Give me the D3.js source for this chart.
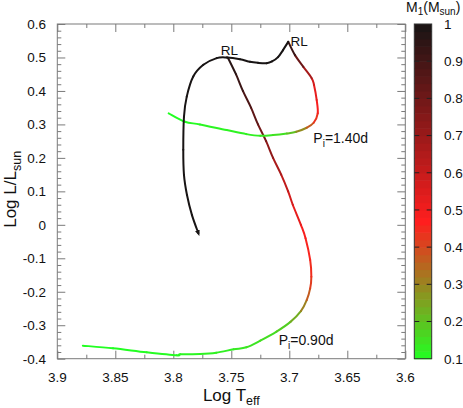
<!DOCTYPE html>
<html><head><meta charset="utf-8">
<script src="https://cdn.jsdelivr.net/npm/d3@7"></script>
<style>body{margin:0;background:#fff}svg{display:block;font-family:"Liberation Sans",Arial,Helvetica,sans-serif}</style>
</head><body><svg id="c" width="463" height="408"></svg>
<script>
// Track with initial period 0.90 d (ends at RL)
const trackA_logTeff = [3.878,3.852,3.823,3.797,3.794,3.777,3.763,3.748,3.737,3.725,3.711,3.699,3.690,3.685,3.682,3.681,3.682,3.686,3.690,3.697,3.701,3.707,3.714,3.720,3.727,3.733,3.740,3.746,3.753];
const trackA_logL    = [-0.361,-0.369,-0.381,-0.390,-0.387,-0.386,-0.382,-0.372,-0.366,-0.346,-0.319,-0.290,-0.258,-0.225,-0.190,-0.155,-0.105,-0.040,0.000,0.060,0.100,0.150,0.200,0.250,0.300,0.350,0.400,0.450,0.500];
const trackA_mass    = [0.10,0.10,0.10,0.11,0.11,0.12,0.12,0.13,0.14,0.15,0.16,0.20,0.27,0.34,0.40,0.44,0.45,0.47,0.50,0.55,0.59,0.64,0.69,0.76,0.82,0.86,0.90,0.94,0.98];
// Track with initial period 1.40 d, up to RL
const trackB_logTeff = [3.804,3.790,3.777,3.754,3.737,3.725,3.714,3.702,3.694,3.685,3.679,3.6755,3.6764,3.6787,3.6807,3.6879,3.6951,3.7009];
const trackB_logL    = [0.333,0.308,0.300,0.283,0.271,0.266,0.268,0.273,0.278,0.290,0.305,0.333,0.373,0.418,0.438,0.472,0.507,0.547];
const trackB_mass    = [0.10,0.10,0.11,0.12,0.12,0.13,0.14,0.16,0.24,0.34,0.40,0.47,0.50,0.55,0.60,0.75,0.88,0.97];
// Same system after RL contact
const trackC_logTeff = [3.7009,3.7054,3.7097,3.7149,3.7195,3.727,3.7339,3.7425,3.754,3.7626,3.7741,3.7828,3.7884,3.7908,3.7914,3.7908,3.7882,3.7839,3.7784];
const trackC_logL    = [0.547,0.522,0.501,0.488,0.483,0.484,0.487,0.495,0.500,0.498,0.478,0.443,0.383,0.323,0.224,0.149,0.089,0.029,-0.025];
const trackC_mass    = [1.0,1.0,1.0,1.0,1.0,1.0,1.0,1.0,1.0,1.0,1.0,1.0,1.0,1.0,1.0,1.0,1.0,1.0,1.0];

const xMajor = [3.9,3.85,3.8,3.75,3.7,3.65,3.6];
const xMajorLabels = ["3.9","3.85","3.8","3.75","3.7","3.65","3.6"];
const xMinor = [3.875,3.825,3.775,3.725,3.675,3.625];
const yMajor = [0.6,0.5,0.4,0.3,0.2,0.1,0,-0.1,-0.2,-0.3,-0.4];
const yMajorLabels = ["0.6","0.5","0.4","0.3","0.2","0.1","0","-0.1","-0.2","-0.3","-0.4"];
const yMinor = [0.58,0.56,0.54,0.52,0.48,0.46,0.44,0.42,0.38,0.36,0.34,0.32,0.28,0.26,0.24,0.22,0.18,0.16,0.14,0.12,0.08,0.06,0.04,0.02,-0.02,-0.04,-0.06,-0.08,-0.12,-0.14,-0.16,-0.18,-0.22,-0.24,-0.26,-0.28,-0.32,-0.34,-0.36,-0.38];
const cbTicks = [0.1,0.2,0.3,0.4,0.5,0.6,0.7,0.8,0.9,1];
const cbLabels = ["0.1","0.2","0.3","0.4","0.5","0.6","0.7","0.8","0.9","1"];
const paletteStops  = [0.1,0.47,1.0];
const paletteColors = ["#22ff22","#ff1e1e","#181414"];
const cbBands = 45;

const svg = d3.select("#c");
const L = 57.3, R = 405.3, T = 24, B = 358.7;
const x = d3.scaleLinear().domain([3.9,3.6]).range([L,R]);
const y = d3.scaleLinear().domain([-0.4,0.6]).range([B,T]);
const color = d3.scaleLinear().domain(paletteStops).range(paletteColors).interpolate(d3.interpolateRgb).clamp(true);
const tickCol = "#7a7a7a";

function ax(gen, tx, ty) {
  const g = svg.append("g").attr("transform", `translate(${tx},${ty})`).call(gen);
  g.select(".domain").remove();
  g.selectAll("line").attr("stroke", tickCol);
  g.selectAll("text").remove();
  return g;
}
ax(d3.axisBottom(x).tickValues(xMajor).tickSizeInner(-8).tickSizeOuter(0), 0, B);
ax(d3.axisBottom(x).tickValues(xMinor).tickSizeInner(-4).tickSizeOuter(0), 0, B);
ax(d3.axisTop(x).tickValues(xMajor).tickSizeInner(-8).tickSizeOuter(0), 0, T);
ax(d3.axisTop(x).tickValues(xMinor).tickSizeInner(-4).tickSizeOuter(0), 0, T);
ax(d3.axisLeft(y).tickValues(yMajor).tickSizeInner(-8).tickSizeOuter(0), L, 0);
ax(d3.axisLeft(y).tickValues(yMinor).tickSizeInner(-4).tickSizeOuter(0), L, 0);
ax(d3.axisRight(y).tickValues(yMajor).tickSizeInner(-8).tickSizeOuter(0), R, 0);
ax(d3.axisRight(y).tickValues(yMinor).tickSizeInner(-4).tickSizeOuter(0), R, 0);

svg.append("rect").attr("x",L).attr("y",T).attr("width",R-L).attr("height",B-T)
  .attr("fill","none").attr("stroke",tickCol).attr("stroke-width",1);

// tick labels
svg.append("g").selectAll("text").data(xMajor).join("text")
  .attr("x", d=>x(d)).attr("y", 382).attr("text-anchor","middle")
  .attr("font-size",13.5).attr("fill","#111").text((d,i)=>xMajorLabels[i]);
svg.append("g").selectAll("text").data(yMajor).join("text")
  .attr("x", 46).attr("y", d=>y(d)).attr("dy","0.36em").attr("text-anchor","end")
  .attr("font-size",13.5).attr("fill","#111").text((d,i)=>yMajorLabels[i]);

// axis titles
const xt = svg.append("text").attr("x",(L+R)/2).attr("y",401).attr("text-anchor","middle")
  .attr("font-size",17).attr("fill","#111");
xt.append("tspan").text("Log T");
xt.append("tspan").attr("dy",4).attr("font-size",12.5).text("eff");

const yt = svg.append("text").attr("transform",`translate(16,${(T+B)/2-2}) rotate(-90)`)
  .attr("text-anchor","middle").attr("font-size",17).attr("fill","#111");
yt.append("tspan").text("Log L/L");
yt.append("tspan").attr("dy",5).attr("font-size",12.5).text("sun");

// tracks (smooth Catmull-Rom segments, coloured by mass)
svg.append("defs").append("marker").attr("id","arr").attr("viewBox","0 0 10 10")
  .attr("refX",5).attr("refY",5).attr("markerWidth",3).attr("markerHeight",3)
  .attr("orient","auto").append("path").attr("d","M0,1 L10,5 L0,9 z").attr("fill","#181414");

function drawTrack(te, ll, ms, arrow) {
  const p = te.map((t,i)=>[x(t), y(ll[i]), ms[i]]);
  const n = p.length;
  const g = svg.append("g");
  for (let i=0;i<n-1;i++){
    const p0 = p[Math.max(i-1,0)], p1 = p[i], p2 = p[i+1], p3 = p[Math.min(i+2,n-1)];
    const c1 = [p1[0]+(p2[0]-p0[0])/6, p1[1]+(p2[1]-p0[1])/6];
    const c2 = [p2[0]-(p3[0]-p1[0])/6, p2[1]-(p3[1]-p1[1])/6];
    g.append("path")
      .attr("d", `M${p1[0]},${p1[1]}C${c1[0]},${c1[1]} ${c2[0]},${c2[1]} ${p2[0]},${p2[1]}`)
      .attr("fill","none")
      .attr("stroke", color((p1[2]+p2[2])/2))
      .attr("stroke-width",2).attr("stroke-linecap","round")
      .attr("marker-end", (arrow && i===n-2) ? "url(#arr)" : null);
  }
}
drawTrack(trackA_logTeff, trackA_logL, trackA_mass, false);
drawTrack(trackB_logTeff, trackB_logL, trackB_mass, false);
drawTrack(trackC_logTeff, trackC_logL, trackC_mass, true);

// annotations
svg.append("text").attr("x",229.5).attr("y",55).attr("text-anchor","middle").attr("font-size",13.5).attr("fill","#111").text("RL");
svg.append("text").attr("x",290.5).attr("y",45.5).attr("font-size",13.5).attr("fill","#111").text("RL");
function pLabel(px, py, s) {
  const t = svg.append("text").attr("x",px).attr("y",py).attr("font-size",14).attr("fill","#111");
  t.append("tspan").text("P");
  t.append("tspan").attr("dy",4).attr("font-size",10).text("i");
  t.append("tspan").attr("dy",-4).text(s);
}
pLabel(313.3, 143, "=1.40d");
pLabel(278.7, 345, "=0.90d");

// colour bar
const cbX0 = 414.3, cbX1 = 431.7;
const cy = d3.scaleLinear().domain([0.1,1]).range([B,T]);
const bands = d3.range(cbBands).map(i => 0.1 + 0.9*i/cbBands);
svg.append("g").selectAll("rect").data(bands).join("rect")
  .attr("x",cbX0).attr("width",cbX1-cbX0)
  .attr("y", d=>cy(d+0.9/cbBands)).attr("height", d=>cy(d)-cy(d+0.9/cbBands)+0.6)
  .attr("fill", d=>color(d+0.45/cbBands));
const inner = cbTicks.slice(1,-1);
svg.append("g").selectAll("line").data(inner).join("line")
  .attr("x1",cbX0).attr("x2",cbX0+5).attr("y1",d=>cy(d)).attr("y2",d=>cy(d)).attr("stroke","#222");
svg.append("g").selectAll("line").data(inner).join("line")
  .attr("x1",cbX1-5).attr("x2",cbX1).attr("y1",d=>cy(d)).attr("y2",d=>cy(d)).attr("stroke","#222");
svg.append("rect").attr("x",cbX0).attr("y",T).attr("width",cbX1-cbX0).attr("height",B-T)
  .attr("fill","none").attr("stroke","#333").attr("stroke-width",1);
svg.append("g").selectAll("text").data(cbTicks).join("text")
  .attr("x",444).attr("y",d=>cy(d)).attr("dy","0.36em")
  .attr("font-size",13.5).attr("fill","#111").text((d,i)=>cbLabels[i]);

const ct = svg.append("text").attr("x",406).attr("y",12).attr("font-size",14).attr("fill","#111");
ct.append("tspan").text("M");
ct.append("tspan").attr("dy",3).attr("font-size",10).text("1");
ct.append("tspan").attr("dy",-3).text("(M");
ct.append("tspan").attr("dy",3).attr("font-size",10).text("sun");
ct.append("tspan").attr("dy",-3).text(")");
</script></body></html>
